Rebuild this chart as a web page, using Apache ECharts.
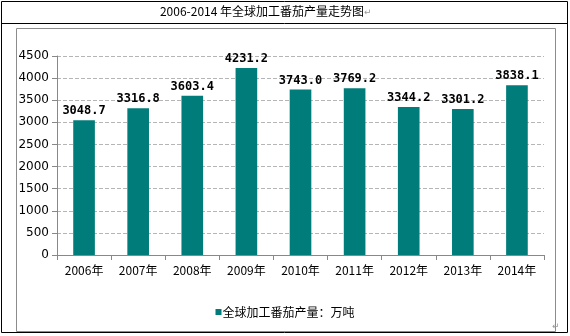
<!DOCTYPE html>
<html>
<head>
<meta charset="utf-8">
<script src="https://cdn.jsdelivr.net/npm/echarts@6/dist/echarts.min.js"></script>
<style>
  html, body { margin: 0; padding: 0; background: #fff; }
  #chart { width: 570px; height: 336px; }
</style>
</head>
<body>
<div id="chart"></div>
<script>
// Global processed-tomato output, 2006–2014 (unit: 10k tonnes)
const years = ['2006年', '2007年', '2008年', '2009年', '2010年', '2011年', '2012年', '2013年', '2014年'];
const output = [3048.7, 3316.8, 3603.4, 4231.2, 3743.0, 3769.2, 3344.2, 3301.2, 3838.1];
const seriesName = '全球加工番茄产量：万吨';
const titleText = '2006-2014 年全球加工番茄产量走势图';

const chart = echarts.init(document.getElementById('chart'), null, { renderer: 'canvas' });

const cjk = '"Noto Sans CJK SC", "DejaVu Sans", sans-serif';

chart.setOption({
  animation: false,
  backgroundColor: '#fff',
  graphic: [
    // outer table frame and title row separator
    { type: 'rect', shape: { x: 1.5, y: 1.5, width: 566, height: 331 }, style: { fill: 'none', stroke: '#000', lineWidth: 1 }, silent: true },
    { type: 'line', shape: { x1: 1.5, y1: 23.5, x2: 567.5, y2: 23.5 }, style: { stroke: '#000', lineWidth: 1 }, silent: true },
    // chart area frame
    { type: 'rect', shape: { x: 16.5, y: 28.5, width: 539, height: 303 }, style: { fill: 'none', stroke: '#8c8c8c', lineWidth: 1 }, silent: true },
    { type: 'text', x: 262, y: 5, style: { text: titleText, font: '12px ' + cjk, fill: '#000', align: 'center' } },
    // paragraph marks
    { type: 'text', x: 364, y: 8, style: { text: '↵', font: '9px "DejaVu Sans"', fill: '#999' } },
    { type: 'text', x: 552, y: 322, style: { text: '↵', font: '9px "DejaVu Sans"', fill: '#999' } }
  ],
  grid: { left: 57, right: 26, top: 56, bottom: 81, containLabel: false },
  xAxis: {
    type: 'category',
    data: years,
    axisLine: { lineStyle: { color: '#888' } },
    axisTick: { show: true, alignWithLabel: false, length: 5, lineStyle: { color: '#888' } },
    axisLabel: { color: '#000', fontSize: 12, fontFamily: cjk, margin: 9 }
  },
  yAxis: {
    type: 'value',
    min: 0, max: 4500, interval: 500,
    axisLine: { show: true, lineStyle: { color: '#888' } },
    axisTick: { show: true, length: 5, lineStyle: { color: '#888' } },
    axisLabel: { color: '#000', fontSize: 12, fontFamily: 'Tahoma, "DejaVu Sans", sans-serif', margin: 8, formatter: v => String(v) },
    splitLine: { lineStyle: { color: '#b5b5b5', type: 'dashed' } }
  },
  legend: {
    bottom: 13,
    left: 'center',
    itemWidth: 6, itemHeight: 6, itemGap: 1,
    icon: 'rect',
    textStyle: { color: '#000', fontSize: 12, fontFamily: cjk, padding: [0, 0, 0, -4] },
    data: [seriesName]
  },
  series: [{
    name: seriesName,
    type: 'bar',
    data: output,
    barWidth: '40%',
    itemStyle: { color: '#007d7b' },
    label: {
      show: true,
      position: 'top',
      distance: 3,
      formatter: p => p.value.toFixed(1),
      color: '#000',
      fontSize: 12,
      fontWeight: 'bold',
      fontFamily: '"DejaVu Sans Mono", monospace'
    }
  }]
});
</script>
</body>
</html>
